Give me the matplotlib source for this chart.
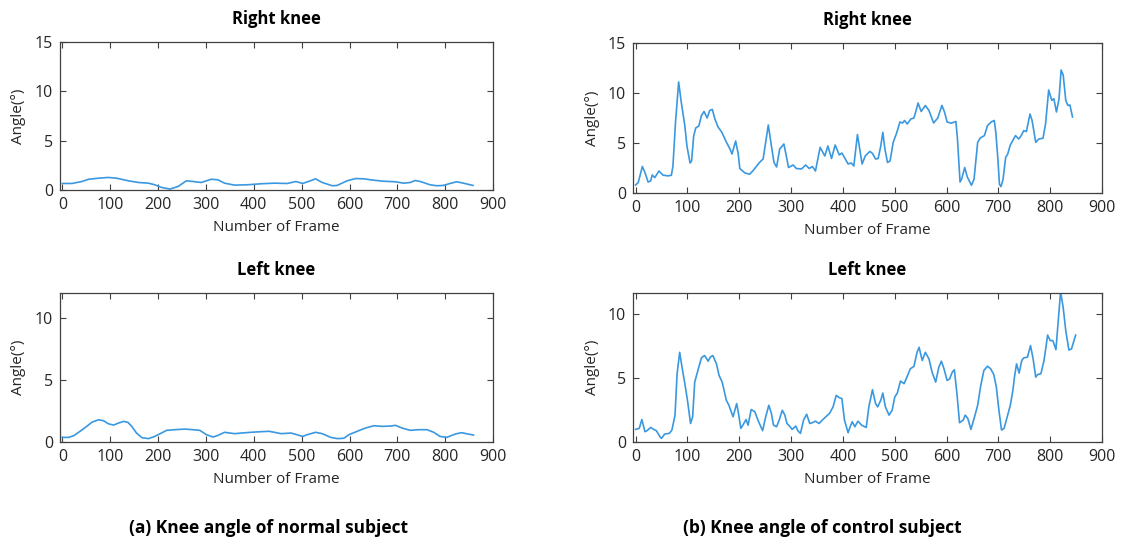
import matplotlib
matplotlib.use("Agg")
import matplotlib.pyplot as plt

plt.rcParams['font.family'] = ['Open Sans', 'DejaVu Sans']

# (a) normal subject, right knee
normal_right_frame = [0, 20, 41, 55, 75, 96, 114, 138, 159, 180, 193, 207, 225, 242,
                      259, 273, 290, 311, 325, 339, 360, 387, 415, 443, 470, 488, 502,
                      516, 529, 543, 564, 574, 595, 613, 630, 651, 671, 696, 713, 727,
                      737, 748, 768, 782, 796, 810, 824, 838, 858]
normal_right_angle = [0.67, 0.67, 0.87, 1.1, 1.2, 1.28, 1.2, 0.94, 0.77, 0.7, 0.54,
                      0.27, 0.1, 0.37, 0.94, 0.87, 0.77, 1.1, 1.04, 0.7, 0.5, 0.54,
                      0.64, 0.7, 0.67, 0.87, 0.67, 0.9, 1.14, 0.77, 0.44, 0.47, 0.94,
                      1.17, 1.14, 1.0, 0.9, 0.84, 0.7, 0.77, 0.97, 0.87, 0.54, 0.44,
                      0.47, 0.67, 0.84, 0.7, 0.47]

# (a) normal subject, left knee
normal_left_frame = [0, 13, 24, 37, 51, 62, 76, 86, 96, 107, 117, 128, 137, 145, 155,
                     166, 180, 193, 207, 218, 235, 256, 273, 287, 301, 315, 325, 339,
                     360, 374, 394, 415, 432, 443, 457, 478, 488, 502, 512, 529, 543,
                     561, 575, 588, 599, 616, 633, 651, 668, 685, 696, 710, 727, 744,
                     762, 776, 789, 803, 821, 834, 848, 859]
normal_left_angle = [0.37, 0.37, 0.51, 0.86, 1.26, 1.6, 1.79, 1.71, 1.47, 1.36, 1.52,
                     1.66, 1.58, 1.26, 0.72, 0.35, 0.27, 0.45, 0.72, 0.94, 0.99, 1.04,
                     0.99, 0.94, 0.59, 0.4, 0.53, 0.78, 0.67, 0.72, 0.78, 0.83, 0.86,
                     0.78, 0.67, 0.72, 0.61, 0.45, 0.59, 0.78, 0.67, 0.37, 0.27, 0.3,
                     0.59, 0.86, 1.12, 1.31, 1.26, 1.28, 1.34, 1.12, 0.94, 0.99, 0.99,
                     0.78, 0.45, 0.37, 0.64, 0.75, 0.64, 0.56]

# (b) control subject, right knee
control_right_frame = [0, 5, 13, 18, 24, 29, 32, 37, 45, 53, 63, 69, 72, 77, 83, 88,
                       95, 99, 105, 108, 112, 116, 122, 127, 132, 138, 143, 148, 153,
                       159, 166, 175, 182, 186, 193, 198, 201, 211, 220, 226, 239, 246,
                       252, 256, 262, 267, 272, 278, 286, 290, 295, 304, 310, 320, 328,
                       335, 341, 347, 356, 365, 371, 378, 385, 393, 398, 410, 416, 421,
                       428, 437, 443, 452, 457, 463, 468, 473, 477, 481, 486, 491, 497,
                       503, 510, 515, 519, 524, 531, 537, 542, 545, 551, 559, 566, 575,
                       583, 591, 596, 601, 609, 618, 621, 626, 629, 635, 640, 648, 653,
                       660, 665, 673, 679, 686, 692, 695, 699, 702, 705, 709, 714, 718,
                       723, 733, 739, 744, 749, 754, 761, 765, 772, 778, 786, 791, 797,
                       803, 807, 812, 817, 821, 825, 830, 834, 838, 843]
control_right_angle = [0.8, 1.04, 2.65, 2.05, 1.1, 1.2, 1.8, 1.54, 2.2, 1.78, 1.71,
                       1.78, 2.7, 7.1, 11.1, 9.1, 6.7, 4.7, 3.0, 3.2, 5.7, 6.5, 6.7,
                       7.75, 8.15, 7.5, 8.25, 8.36, 7.4, 6.6, 6.1, 5.1, 4.4, 3.9, 5.2,
                       3.9, 2.45, 2.0, 1.88, 2.2, 3.05, 3.4, 5.4, 6.8, 4.7, 3.05, 2.6,
                       4.4, 4.9, 3.9, 2.55, 2.8, 2.45, 2.4, 2.8, 2.45, 2.65, 2.2, 4.56,
                       3.7, 4.7, 3.45, 4.8, 3.8, 4.0, 2.9, 3.0, 2.7, 5.84, 2.9, 3.7,
                       4.16, 3.96, 3.4, 3.45, 4.7, 6.07, 4.4, 3.05, 3.2, 5.07, 5.9, 7.1,
                       7.0, 7.25, 6.9, 7.4, 7.5, 8.4, 9.0, 8.15, 8.75, 8.25, 7.0, 7.5,
                       8.76, 8.1, 7.1, 6.98, 7.15, 5.4, 1.1, 1.38, 2.55, 1.6, 0.77,
                       1.38, 5.07, 5.5, 5.74, 6.74, 7.1, 7.25, 6.07, 3.4, 0.87, 0.64,
                       1.38, 3.56, 3.9, 4.8, 5.74, 5.4, 5.74, 6.24, 6.14, 7.9, 7.25,
                       5.07, 5.4, 5.47, 6.9, 10.3, 9.26, 9.43, 8.1, 9.43, 12.3, 11.8,
                       9.26, 8.76, 8.8, 7.6]

# (b) control subject, left knee
control_left_frame = [0, 7, 12, 18, 22, 29, 35, 40, 47, 50, 56, 65, 70, 76, 80, 85,
                      90, 95, 100, 106, 110, 114, 121, 127, 133, 140, 144, 149, 156,
                      161, 167, 175, 180, 188, 195, 198, 203, 207, 213, 217, 223, 230,
                      236, 245, 251, 257, 262, 266, 272, 277, 283, 288, 292, 297, 302,
                      309, 313, 318, 324, 330, 336, 341, 347, 354, 360, 368, 374, 381,
                      387, 393, 398, 403, 410, 414, 418, 423, 429, 436, 445, 450, 457,
                      463, 467, 473, 477, 482, 489, 495, 500, 505, 511, 518, 524, 530,
                      537, 543, 547, 553, 559, 566, 572, 579, 585, 590, 595, 601, 606,
                      611, 615, 620, 625, 632, 636, 641, 647, 654, 660, 666, 672, 679,
                      685, 691, 696, 701, 706, 711, 717, 723, 728, 731, 735, 740, 745,
                      749, 756, 762, 767, 772, 776, 782, 788, 795, 800, 805, 811, 815,
                      820, 825, 830, 836, 841, 849]
control_left_angle = [0.98, 1.06, 1.75, 0.8, 0.88, 1.13, 0.98, 0.88, 0.41, 0.28, 0.62,
                      0.67, 0.93, 2.09, 5.3, 6.98, 5.7, 4.54, 3.25, 1.44, 1.96, 4.66,
                      5.7, 6.55, 6.73, 6.29, 6.6, 6.73, 6.08, 5.18, 4.66, 3.25, 2.86,
                      1.96, 2.99, 2.35, 1.06, 1.31, 1.75, 1.31, 2.53, 2.35, 1.7, 0.88,
                      1.96, 2.86, 2.22, 1.31, 1.19, 1.7, 2.47, 2.09, 1.44, 1.24, 0.98,
                      1.24, 0.88, 0.67, 1.7, 2.16, 1.44, 1.5, 1.62, 1.44, 1.7, 2.0,
                      2.22, 2.73, 3.63, 3.45, 3.38, 1.7, 0.72, 1.19, 1.57, 1.19, 1.62,
                      1.31, 1.13, 2.73, 4.07, 2.99, 2.73, 3.25, 3.81, 2.73, 2.09, 2.47,
                      3.5, 3.81, 4.74, 4.54, 5.1, 5.7, 5.88, 6.98, 7.37, 6.34, 6.98,
                      6.47, 5.44, 4.66, 5.82, 6.29, 5.7, 4.79, 4.92, 5.44, 5.62, 3.76,
                      1.5, 1.7, 2.09, 1.83, 0.98, 1.96, 2.86, 4.41, 5.57, 5.9, 5.7,
                      5.26, 4.28, 2.47, 0.93, 1.06, 1.96, 2.86, 4.02, 5.05, 6.08, 5.36,
                      6.34, 6.55, 6.6, 7.5, 6.47, 5.05, 5.26, 5.31, 6.34, 8.32, 7.89,
                      7.89, 7.19, 9.18, 11.7, 10.46, 8.66, 7.16, 7.24, 8.32]

line_color = '#3a98e0'
edge_color = '#404040'

fig = plt.figure(figsize=(11.25, 5.4), dpi=100)

panels = [
    ([0.0533, 0.648, 0.385, 0.274], normal_right_frame, normal_right_angle, "Right knee", 15, [0, 5, 10, 15]),
    ([0.0533, 0.1815, 0.385, 0.276], normal_left_frame, normal_left_angle, "Left knee", 12, [0, 5, 10]),
    ([0.5627, 0.6426, 0.4169, 0.2778], control_right_frame, control_right_angle, "Right knee", 15, [0, 5, 10, 15]),
    ([0.5627, 0.1815, 0.4169, 0.276], control_left_frame, control_left_angle, "Left knee", 11.6, [0, 5, 10]),
]

for rect, frames, angles, title, ytop, yticks in panels:
    ax = fig.add_axes(rect)
    ax.plot(frames, angles, color=line_color, lw=1.2)
    ax.set_xlim(-5, 900)
    ax.set_ylim(0, ytop)
    ax.set_xticks(range(0, 901, 100))
    ax.set_yticks(yticks)
    ax.tick_params(direction='in', top=True, right=True, length=4, width=0.8,
                   colors=edge_color, labelcolor='#262626', labelsize=11.5, pad=5)
    for s in ax.spines.values():
        s.set_color(edge_color)
        s.set_linewidth(0.9)
    ax.set_title(title, fontsize=12, fontweight='bold', pad=13)
    ax.set_xlabel("Number of Frame", fontsize=11, color='#262626', labelpad=5)
    ax.set_ylabel("Angle(°)", fontsize=11, color='#262626', labelpad=6)

fig.text(0.239, 0.022, "(a) Knee angle of normal subject", fontsize=12.5,
         fontweight='bold', ha='center', va='center')
fig.text(0.731, 0.022, "(b) Knee angle of control subject", fontsize=12.5,
         fontweight='bold', ha='center', va='center')

fig.savefig("out.png", dpi=100)
